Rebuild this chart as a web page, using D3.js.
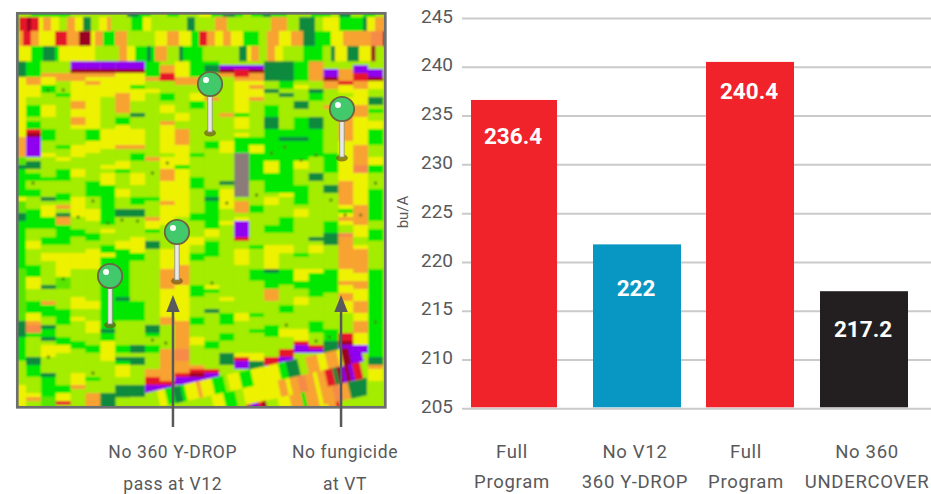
<!DOCTYPE html>
<html><head><meta charset="utf-8">
<script src="https://cdn.jsdelivr.net/npm/d3@7"></script>
<style>html,body{margin:0;padding:0;background:#fff}svg{display:block}text{font-family:Roboto,sans-serif}</style>
</head><body><svg id="c" width="931" height="494"></svg>
<script>
// ---- bar chart data ----
const barIds = ["a","b","c","d"];
const barValues = [236.6, 221.8, 240.5, 217.0];
const valueLabels = ["236.4","222","240.4","217.2"];
const barColors = ["#f0232b","#0896c3","#f0232b","#231f20"];
const barCategories = [["Full","Program"],["No V12","360 Y-DROP"],["Full","Program"],["No 360","UNDERCOVER"]];
const yTicks = [205,210,215,220,225,230,235,240,245];
const axisTitle = "bu/A";
// ---- yield map data: run-length yield classes ----
const yieldColors = {D:"#0b8a3c",G:"#00e800",L:"#58e600",A:"#a4ec00",Y:"#eef200",O:"#f8a232",o:"#f58a4a",R:"#e5122c",M:"#9c0022",P:"#9000f0",B:"#8b7b79"};
const topRowIds = ["a","b","c","d"];
const topRows = [
"A3 G10 A7 A7 D3 G3 A4 G3 A5 Y3 G3 D3 G2 A2 G3 D2 G4 A6 G5 A2 D3 A3 G3",
"R2 M1 R2 Y1 O2 Y2 A2 O2 Y2 D2 A2 Y2 O1 A5 G3 Y2 A4 A5 D2 A2 A3 O3 A2 A9 O4 A3 D4 A2 Y4 G6 D1 Y2 O3 R1",
"O1 R2 O2 Y4 R3 O3 M3 Y1 O2 G3 O3 A7 Y3 O3 Y3 G2 R2 O2 Y2 O2 Y3 G4 A2 O3 Y3 O3 D3 G4 Y3 O7 o3 M1 P1",
"Y3 G3 D3 G1 Y9 A6 O2 Y2 G3 D1 G1 O3 A3 D1 G3 G2 A9 D2 Y1 O2 A2 O2 Y2 A5 G5 A2 D1 Y3 D3 Y3 M1"
];
const strips = [
"D4 Y15 O5 L2 D1 G7 Y1 L3 D2 G12 L13 D4 G6 A6 Y6",
"G4 O2 Y3 A2 G3 A1 G2 R1 M1 P5 A1 D2 A1 G2 A2 G2 A3 G5 A3 Y2 A4 G3 Y3 A3 G3 Y2 O1 o2 G1 A5 D2 G3 A4 Y1 O1 A2",
"A3 O1 Y2 G2 A3 Y3 A3 G3 A3 Y1 A5 G1 A4 D1 A1 Y3 G3 A2 G2 A2 Y2 A6 D1 A3 O1 G3 A2 D1 G2 D1 A1 Y3 A4 D1 G5 L3",
"A3 O2 A3 G1 A8 A4 G1 A2 Y1 A2 G3 A3 G2 A1 O1 A1 D1 O2 G4 G1 A2 Y4 Y2 L3 A2 A3 G4 A3 G2 Y2 A3 A5 G2 Y2 R1 A1",
"P2 M1 O2 Y5 O2 Y2 O2 Y1 A4 Y3 A3 Y2 A5 Y5 A3 G2 A4 Y4 A7 Y3 A2 Y1 A5 G2 A3 A3 Y3 O1 A1 A4",
"P2 M1 O1 Y1 O1 Y11 G3 Y3 A7 G4 A3 Y3 A3 G2 A2 Y5 A8 Y2 A3 Y3 A3 G2 A6 G1 A3 O4",
"P2 M1 O1 Y5 A8 Y5 A4 Y1 A1 Y3 G5 G5 A1 Y1 A3 G2 Y1 G3 G11 G4 D1 G2 Y5 A6 A2 D3 D1",
"P2 M1 Y5 O5 A1 G2 Y1 Y4 O1 A3 Y2 G1 A4 Y2 A3 D2 A6 Y2 G3 G9 D1 G5 A6 G2 A1 D1 G1 Y3 A2 D3",
"P2 M1 Y3 G1 Y3 A3 D1 A3 Y4 O1 A1 G2 A3 Y3 A3 G2 A1 D2 A5 Y4 G2 A3 A7 G5 A6 D2 A1 D2 A3 A2 D3 A3",
"G4 O1 A2 Y1 A9 A7 O1 A9 G1 A4 O1 Y2 G1 A2 D2 A5 A14 D2 G1 A2 G2 A4 O2 R2 P2 A4",
"A1 O2 R2 A3 G2 A1 Y2 A2 O1 Y1 Y6 A1 Y3 O3 Y5 O1 Y5 A6 Y5 O5 Y7 O2 A6 O8 R1 P2 A4",
"Y4 O2 A7 Y2 A2 O4 Y5 G1 Y12 A5 Y7 O1 O4 Y9 O7 o3 O3 R1 P2 A6",
"G4 O2 A2 Y2 G2 A5 A6 G1 A5 G3 A6 G2 A4 Y2 A2 G2 A6 G3 A5 G2 A3 Y2 A5 O1 R1 M1 P2 A6",
"G1 D2 A6 O1 A7 A3 G2 A10 G2 D1 G7 Y2 A1 G4 A3 A4 Y1 G1 A4 D1 A7 G2 A5 R1 P2 A7",
"A1 P1 M1 O1 A9 O1 A3 A3 Y3 A7 D1 A1 Y5 A3 Y1 A18 Y1 A3 G3 A2 G2 A3 D3 A11",
"A1 P1 R2 O1 Y8 G1 Y3 A1 Y1 G4 B11 A1 O3 A1 Y1 P4 R1 A2 Y4 A1 A11 Y2 A8 Y1 R1 P2 A10",
"A1 P1 M1 O2 Y1 O1 Y2 O1 A7 A2 G2 Y2 G7 A6 G2 A8 G1 A3 A2 G3 A8 G1 A3 G1 A5 Y2 D3 A9",
"D5 A2 D1 A3 G3 D3 G8 Y3 G5 A1 Y2 A5 G2 A3 Y6 D1 G4 O3 A6 G3 A5 R2 P2 A9",
"D5 G2 A1 D1 A8 G2 D1 G13 Y1 A5 G4 A3 Y2 A4 G4 A5 G2 A4 Y2 A3 R2 P2 A10",
"G5 A1 Y1 A3 D2 A2 G3 G2 D1 G5 Y2 A4 G5 A1 Y2 A9 G1 A3 Y3 G2 A2 Y2 A6 Y3 R1 P2 A14",
"O5 A2 D1 G2 A3 A1 D3 G7 A4 D2 A14 D1 A1 Y2 A4 Y1 G6 A6 G3 A3 R1 P1 A14",
"A2 P2 M1 O2 A4 O1 A5 A6 G5 A3 D2 A7 G3 D3 A6 G6 A9 G3 D3 A14",
"A2 O3 R1 Y2 A1 Y3 O5 O3 Y5 Y5 O6 Y1 G1 Y1 O1 Y1 A2 o1 O8 Y3 O1 Y2 O2 Y3 A5 R2 M1 P1 A15",
"A1 P2 R2 O2 Y4 O3 Y3 Y4 O5 o2 Y8 O5 Y3 A2 Y1 O6 Y2 O2 Y3 O3 Y2 O3 Y3 P2 A14",
"A2 P2 M1 Y2 A2 D2 A1 G1 A2 Y2 G4 A3 Y2 G2 A4 G8 A2 G3 A7 G7 G15 D2 O1 Y3 A3 A4"
];
const diagIds = ["r1","r2","r3","r4"];
const diagRows = [
"A3 Y2 G2 D2 G1 Y3 O1 Y3 G3 A1 Y3 G3 Y3 Y4 G2 D3 A2 O3 Y2 O3 Y1 M2 P3",
"A14 A2 Y3 G3 A2 Y5 Y4 O2 Y1 O2 o2 O2 Y1 O2 R2 D1 M1 P1 M1 P1 R2",
"A24 R1 P2 R1 M1 A3 Y3 O3 G1 O3 Y1 O3 o2 O2 D5 A3",
"A24 Y3 O3 A4 Y2 O3 D1 O2 Y2 O2 R1 A8"
];
const specksK = [1.48,2.5,.47,4.5,3.5,5.5,6.45,7.5,8.5,9.5,1.5,2.5,4.5,8.5,9.4,15.5,16.5,17.4,18.5,19.5,13.5,12.5,17.5,19.5,20.4,23.5,23.5,22.5,21.45,20.5];
const specksR = [7.25,7.25,30.5,35,39,40.5,39.75,40,28,25.5,74,54.5,78,69.75,70.5,33.5,23,21.5,24.75,23.5,35.5,55.5,66,70,69,65.25,30.5,38.5,38.5,34.75];
const pinK = [12.37,21.24,10.15,5.65];
const pinR = [18,24.25,55,66];
const arrowK = [9.88,21.18];
const arrowLabels = [["No 360 Y-DROP","pass at V12"],["No fungicide","at VT"]];

const decode = s => { let p = 0; return s.split(" ").map(t => { const c=t[0], n=+t.slice(1), r={c,start:p,n}; p+=n; return r; }); };
const svg = d3.select("#c");
const defs = svg.append("defs");
defs.append("clipPath").attr("id","mapClip").append("rect").attr("x",18).attr("y",14).attr("width",367).attr("height",393);
defs.append("filter").attr("id","soft").attr("x","-2%").attr("y","-2%").attr("width","104%").attr("height","104%")
  .append("feGaussianBlur").attr("stdDeviation",1.0);
const mapX = d3.scaleLinear().domain([0,24]).range([26,383]);
const mapY = d3.scaleLinear().domain([0,87]).range([61,409]);
const colW = mapX(1)-mapX(0), rowH = mapY(1)-mapY(0);
const unit = d3.scaleLinear().domain([0,91]).range([19,383]);

const clip = svg.append("g").attr("clip-path","url(#mapClip)");
const map = clip.append("g").attr("filter","url(#soft)");
map.append("rect").attr("x",10).attr("y",6).attr("width",385).attr("height",410).attr("fill",yieldColors.A);

// columns
map.append("g").selectAll("g").data(strips).join("g").each(function(s,i){
  d3.select(this).selectAll("rect").data(decode(s)).join("rect")
    .attr("x",mapX(i-1)).attr("width",colW+0.3)
    .attr("y",d=>mapY(d.start)).attr("height",d=>d.n*rowH+0.3)
    .attr("fill",d=>yieldColors[d.c]);
});
// top headland
const topY = d3.scaleOrdinal().domain(topRowIds).range([12,17,31,46]);
const topH = d3.scaleOrdinal().domain(topRowIds).range([5,14,15,15]);
map.append("g").selectAll("g").data(topRows).join("g").each(function(s,i){
  const id = topRowIds[i];
  d3.select(this).selectAll("rect").data(decode(s)).join("rect")
    .attr("x",d=>unit(d.start)).attr("width",d=>unit(d.n)-unit(0)+0.3)
    .attr("y",topY(id)).attr("height",topH(id)+0.3)
    .attr("fill",d=>yieldColors[d.c]);
});
// diagonal headland, clipped to the wedge under its top edge
const wedge = [[145,393],[367,343],[367,412],[145,412]];
defs.append("clipPath").attr("id","wedge").append("polygon").attr("points",wedge.join(" "));
const diagV = d3.scaleBand().domain(diagIds).range([0,68]);
const diag = map.append("g").attr("clip-path","url(#wedge)").append("g").attr("transform","translate(145,393) rotate(-12.7)");
diag.selectAll("g").data(diagRows).join("g").each(function(s,i){
  d3.select(this).selectAll("rect").data(decode(s)).join("rect")
    .attr("x",d=>d.start*4).attr("width",d=>d.n*4+0.3)
    .attr("y",diagV(diagIds[i])).attr("height",diagV.bandwidth()+0.3)
    .attr("fill",d=>yieldColors[d.c]);
});
// specks
map.append("g").selectAll("circle").data(specksK).join("circle")
  .attr("cx",d=>mapX(d)).attr("cy",(d,i)=>mapY(specksR[i])).attr("r",1.5).attr("fill","#3f6a10");

// pins
const pins = clip.append("g").selectAll("g").data(pinK).join("g")
  .attr("transform",(d,i)=>`translate(${mapX(d)},${mapY(pinR[i])})`);
pins.append("ellipse").attr("rx",6).attr("ry",3.5).attr("fill","#6b5a1e").attr("opacity",.7);
pins.append("rect").attr("x",-2.2).attr("y",-49).attr("width",4.4).attr("height",48).attr("fill","#e9e9e6").attr("stroke","#8d8d80").attr("stroke-width",.8);
pins.append("circle").attr("cy",-49).attr("r",12.2).attr("fill","#42c96c").attr("stroke","#6d6440").attr("stroke-width",1.8);
pins.append("circle").attr("cx",-4).attr("cy",-53).attr("r",3).attr("fill","#fff");

// map frame
svg.append("rect").attr("x",17.3).attr("y",13.3).attr("width",368).attr("height",394).attr("fill","none").attr("stroke","#6d6e70").attr("stroke-width",2.7);

// arrows
const arrows = svg.append("g").selectAll("g").data(arrowK).join("g").attr("transform",d=>`translate(${mapX(d)},0)`);
arrows.append("line").attr("y1",308).attr("y2",427).attr("stroke","#58595b").attr("stroke-width",2.5);
arrows.append("path").attr("d","M0,295L6.7,312L-6.7,312Z").attr("fill","#58595b");
const labelX = d3.scaleOrdinal().domain(arrowK).range([172.7,345]);
const aLab = svg.append("g").selectAll("text").data(arrowK).join("text")
  .attr("text-anchor","middle").attr("fill","#58595b").attr("font-size",17.5).attr("letter-spacing",0.6);
aLab.append("tspan").attr("x",d=>labelX(d)).attr("y",458).text((d,i)=>arrowLabels[i][0]);
aLab.append("tspan").attr("x",d=>labelX(d)).attr("y",490).text((d,i)=>arrowLabels[i][1]);

// bar chart
const y = d3.scaleLinear().domain([205,245]).range([408.3,18]);
const gridG = svg.append("g").attr("transform","translate(462,0)")
  .call(d3.axisLeft(y).tickValues(yTicks).tickSize(-469).tickPadding(9));
gridG.select(".domain").remove();
gridG.selectAll(".tick line").attr("stroke","#c9cacb").attr("stroke-width",2);
gridG.selectAll(".tick text").attr("fill","#58595b").attr("font-size",19).attr("font-family","Roboto,sans-serif").attr("dy","0.22em");
const barX = d3.scaleOrdinal().domain(barIds).range([514,637,750,864]);
const barW = d3.scaleOrdinal().domain(barIds).range([86,88,88,88]);
const catX = d3.scaleOrdinal().domain(barIds).range([512,635,746,867]);
const labelDy = d3.scaleOrdinal().domain(barIds).range([44,52,37,46]);
svg.append("g").selectAll("rect").data(barIds).join("rect")
  .attr("x",d=>barX(d)-barW(d)/2).attr("width",d=>barW(d))
  .attr("y",(d,i)=>y(barValues[i])).attr("height",(d,i)=>y(205)-y(barValues[i])-1)
  .attr("fill",(d,i)=>barColors[i]);
svg.append("g").selectAll("text").data(barIds).join("text")
  .attr("x",d=>barX(d)-1).attr("y",(d,i)=>y(barValues[i])+labelDy(d))
  .attr("text-anchor","middle").attr("fill","#fff").attr("font-weight",700).attr("font-size",22.5)
  .text((d,i)=>valueLabels[i]);
const cat = svg.append("g").selectAll("text").data(barIds).join("text")
  .attr("text-anchor","middle").attr("fill","#58595b").attr("font-size",18.5).attr("letter-spacing",0.7);
cat.append("tspan").attr("x",d=>catX(d)).attr("y",458).text((d,i)=>barCategories[i][0]);
cat.append("tspan").attr("x",d=>catX(d)).attr("y",488).text((d,i)=>barCategories[i][1]);
svg.append("text").attr("transform","translate(408,212) rotate(-90)").attr("text-anchor","middle")
  .attr("fill","#58595b").attr("font-size",15).text(axisTitle);
</script></body></html>
